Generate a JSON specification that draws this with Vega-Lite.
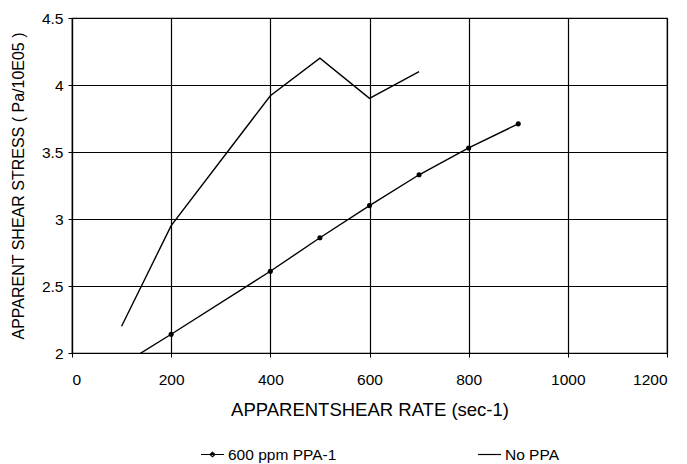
{
  "$schema": "https://vega.github.io/schema/vega-lite/v6.json",
  "width": 595,
  "height": 335,
  "autosize": {"type": "none"},
  "padding": {"left": 72, "top": 18, "right": 20, "bottom": 111},
  "background": "white",
  "config": {
    "view": {"stroke": "black", "strokeWidth": 1.2},
    "font": "Liberation Sans",
    "axis": {
      "labelFont": "Liberation Sans",
      "titleFont": "Liberation Sans",
      "labelColor": "black",
      "titleColor": "black",
      "labelFontSize": 15.5,
      "titleFontWeight": "normal",
      "domainColor": "black",
      "tickColor": "black",
      "gridColor": "black",
      "gridOpacity": 1,
      "gridWidth": 1.2,
      "tickSize": 4,
      "domainWidth": 1.2
    }
  },
  "data": {
    "values": [
      {"rate": 100, "stress": 2.2, "series": "No PPA"},
      {"rate": 200, "stress": 2.95, "series": "No PPA"},
      {"rate": 400, "stress": 3.92, "series": "No PPA"},
      {"rate": 500, "stress": 4.2, "series": "No PPA"},
      {"rate": 600, "stress": 3.9, "series": "No PPA"},
      {"rate": 700, "stress": 4.1, "series": "No PPA"},
      {"rate": 100, "stress": 1.91, "series": "600 ppm PPA-1"},
      {"rate": 200, "stress": 2.14, "series": "600 ppm PPA-1"},
      {"rate": 400, "stress": 2.61, "series": "600 ppm PPA-1"},
      {"rate": 500, "stress": 2.86, "series": "600 ppm PPA-1"},
      {"rate": 600, "stress": 3.1, "series": "600 ppm PPA-1"},
      {"rate": 700, "stress": 3.33, "series": "600 ppm PPA-1"},
      {"rate": 800, "stress": 3.53, "series": "600 ppm PPA-1"},
      {"rate": 900, "stress": 3.71, "series": "600 ppm PPA-1"}
    ]
  },
  "encoding": {
    "x": {
      "field": "rate", "type": "quantitative",
      "scale": {"domain": [0, 1200], "nice": false},
      "axis": {"values": [0, 200, 400, 600, 800, 1000, 1200], "format": "d", "title": "APPARENTSHEAR RATE (sec-1)", "titleFontSize": 18.5, "labelPadding": 15, "titlePadding": 13}
    },
    "y": {
      "field": "stress", "type": "quantitative",
      "scale": {"domain": [2, 4.5], "nice": false, "zero": false},
      "axis": {"values": [2, 2.5, 3, 3.5, 4, 4.5], "title": "APPARENT SHEAR STRESS ( Pa/10E05 )", "titleFontSize": 16, "labelPadding": 5, "titlePadding": 15, "format": "~g"}
    }
  },
  "layer": [
    {
      "mark": {"type": "line", "clip": true, "color": "black", "strokeWidth": 1.4},
      "encoding": {"detail": {"field": "series"}}
    },
    {
      "transform": [{"filter": "datum.series === '600 ppm PPA-1'"}],
      "mark": {"type": "point", "clip": true, "filled": true, "color": "black", "size": 26, "opacity": 1},
      "encoding": {}
    },
    {
      "mark": {"type": "point", "opacity": 0, "clip": true},
      "encoding": {
        "shape": {
          "field": "series", "type": "nominal",
          "scale": {"domain": ["600 ppm PPA-1", "No PPA"], "range": ["M-1,0L1,0M-0.22,0L0,-0.2L0.22,0L0,0.2Z", "M-1,0L1,0"]},
          "legend": {
            "title": null,
            "orient": "none",
            "direction": "horizontal",
            "legendX": 128,
            "legendY": 424,
            "labelFont": "Liberation Sans",
            "labelFontSize": 15.5,
            "labelColor": "black",
            "symbolSize": 529,
            "symbolOpacity": 1,
            "symbolFillColor": "black",
            "symbolStrokeColor": "black",
            "symbolStrokeWidth": 1.2,
            "labelOffset": 3,
            "columnPadding": 138
          }
        }
      }
    }
  ]
}
